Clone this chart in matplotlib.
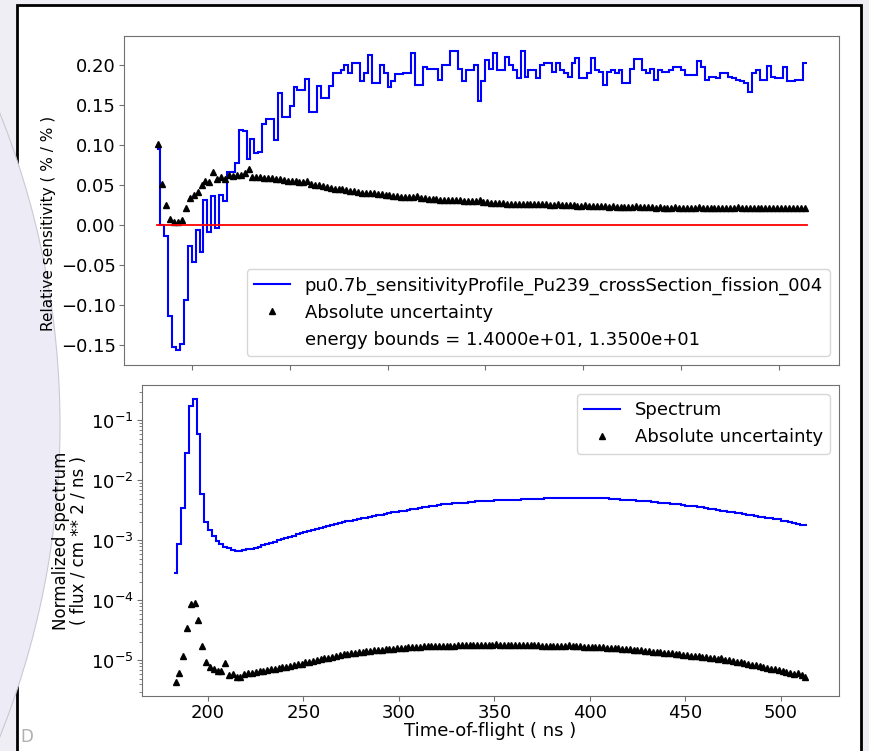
import numpy as np
import matplotlib
matplotlib.use("Agg")
import matplotlib.pyplot as plt
from matplotlib.patches import Rectangle, Ellipse

# time-of-flight bin edges (ns), 2 ns wide
tof_start = 182
tof_stop = 514
bin_width = 2

# relative sensitivity per bin (% / %)
sensitivity = [
    0.095, 0.000, -0.014, -0.114, -0.152, -0.156, -0.148, -0.093, -0.026, -0.046,
    -0.006, -0.033, 0.032, -0.008, 0.037, -0.004, 0.038, 0.030, 0.067, 0.067,
    0.078, 0.119, 0.118, 0.083, 0.108, 0.091, 0.092, 0.127, 0.133, 0.133,
    0.107, 0.166, 0.135, 0.135, 0.149, 0.173, 0.169, 0.169, 0.183, 0.142,
    0.142, 0.174, 0.159, 0.159, 0.174, 0.190, 0.190, 0.194, 0.200, 0.190,
    0.203, 0.203, 0.180, 0.190, 0.213, 0.178, 0.178, 0.200, 0.190, 0.173,
    0.180, 0.189, 0.189, 0.190, 0.190, 0.216, 0.176, 0.176, 0.198, 0.196,
    0.196, 0.196, 0.182, 0.200, 0.200, 0.218, 0.218, 0.196, 0.180, 0.194,
    0.194, 0.200, 0.155, 0.180, 0.207, 0.195, 0.216, 0.194, 0.194, 0.211,
    0.200, 0.194, 0.184, 0.218, 0.186, 0.194, 0.194, 0.184, 0.200, 0.203,
    0.203, 0.192, 0.203, 0.194, 0.190, 0.186, 0.203, 0.209, 0.184, 0.184,
    0.190, 0.209, 0.194, 0.192, 0.176, 0.192, 0.194, 0.190, 0.194, 0.178,
    0.178, 0.196, 0.208, 0.208, 0.194, 0.190, 0.196, 0.182, 0.194, 0.192,
    0.192, 0.194, 0.198, 0.198, 0.194, 0.188, 0.188, 0.188, 0.205, 0.198,
    0.182, 0.186, 0.186, 0.184, 0.190, 0.190, 0.186, 0.184, 0.182, 0.180,
    0.178, 0.167, 0.190, 0.194, 0.182, 0.182, 0.199, 0.186, 0.184, 0.184,
    0.198, 0.180, 0.180, 0.182, 0.182, 0.203,
]

# absolute uncertainty of the sensitivity
sens_unc = [
    0.102, 0.052, 0.025, 0.008, 0.004, 0.004, 0.007, 0.021, 0.034, 0.038,
    0.042, 0.050, 0.055, 0.054, 0.067, 0.058, 0.061, 0.058, 0.063, 0.062,
    0.063, 0.063, 0.065, 0.071, 0.061, 0.060, 0.060, 0.059, 0.059, 0.059,
    0.058, 0.058, 0.057, 0.056, 0.055, 0.055, 0.054, 0.054, 0.056, 0.052,
    0.051, 0.050, 0.049, 0.048, 0.047, 0.046, 0.046, 0.045, 0.044, 0.043,
    0.043, 0.042, 0.041, 0.041, 0.040, 0.040, 0.039, 0.039, 0.038, 0.038,
    0.037, 0.037, 0.036, 0.036, 0.036, 0.035, 0.037, 0.034, 0.034, 0.033,
    0.033, 0.033, 0.032, 0.032, 0.032, 0.031, 0.031, 0.031, 0.030, 0.030,
    0.030, 0.030, 0.031, 0.029, 0.029, 0.028, 0.028, 0.028, 0.028, 0.027,
    0.027, 0.027, 0.027, 0.027, 0.026, 0.026, 0.026, 0.026, 0.026, 0.026,
    0.025, 0.025, 0.026, 0.025, 0.025, 0.025, 0.025, 0.024, 0.024, 0.025,
    0.024, 0.024, 0.024, 0.024, 0.024, 0.023, 0.024, 0.023, 0.023, 0.023,
    0.023, 0.023, 0.024, 0.023, 0.023, 0.023, 0.023, 0.022, 0.023, 0.022,
    0.022, 0.022, 0.023, 0.022, 0.022, 0.022, 0.022, 0.022, 0.023, 0.022,
    0.022, 0.022, 0.022, 0.022, 0.022, 0.022, 0.022, 0.022, 0.023, 0.022,
    0.022, 0.022, 0.022, 0.022, 0.022, 0.022, 0.022, 0.022, 0.022, 0.022,
    0.022, 0.022, 0.022, 0.022, 0.022, 0.021,
]

# normalized spectrum (flux / cm**2 / ns)
spectrum = [
    2.9e-4, 8.7e-4, 3.5e-3, 2.9e-2, 1.76e-1, 2.27e-1, 5.9e-2, 5.9e-3, 2.0e-3, 1.47e-3,
    1.2e-3, 9.9e-4, 8.7e-4, 7.9e-4, 7.4e-4, 7.0e-4, 6.8e-4, 6.8e-4, 6.9e-4, 7.1e-4,
    7.2e-4, 7.6e-4, 7.9e-4, 8.3e-4, 8.7e-4, 9.1e-4, 9.5e-4, 1.0e-3, 1.05e-3, 1.10e-3,
    1.15e-3, 1.20e-3, 1.26e-3, 1.32e-3, 1.38e-3, 1.45e-3, 1.51e-3, 1.55e-3, 1.62e-3, 1.70e-3,
    1.74e-3, 1.82e-3, 1.86e-3, 1.95e-3, 2.00e-3, 2.09e-3, 2.14e-3, 2.19e-3, 2.29e-3, 2.34e-3,
    2.40e-3, 2.51e-3, 2.57e-3, 2.63e-3, 2.69e-3, 2.75e-3, 2.88e-3, 2.95e-3, 3.02e-3, 3.09e-3,
    3.16e-3, 3.24e-3, 3.31e-3, 3.39e-3, 3.47e-3, 3.55e-3, 3.63e-3, 3.72e-3, 3.80e-3, 3.89e-3,
    3.98e-3, 4.07e-3, 4.07e-3, 4.17e-3, 4.17e-3, 4.27e-3, 4.27e-3, 4.37e-3, 4.37e-3, 4.47e-3,
    4.47e-3, 4.57e-3, 4.57e-3, 4.57e-3, 4.68e-3, 4.68e-3, 4.68e-3, 4.79e-3, 4.79e-3, 4.79e-3,
    4.79e-3, 4.90e-3, 4.90e-3, 4.90e-3, 4.90e-3, 4.90e-3, 4.90e-3, 5.01e-3, 5.01e-3, 5.01e-3,
    5.01e-3, 5.01e-3, 5.01e-3, 5.01e-3, 5.01e-3, 5.01e-3, 5.01e-3, 5.01e-3, 5.01e-3, 5.01e-3,
    5.01e-3, 5.01e-3, 5.01e-3, 5.01e-3, 4.90e-3, 4.90e-3, 4.90e-3, 4.79e-3, 4.79e-3, 4.68e-3,
    4.68e-3, 4.57e-3, 4.57e-3, 4.47e-3, 4.47e-3, 4.37e-3, 4.37e-3, 4.27e-3, 4.27e-3, 4.17e-3,
    4.07e-3, 4.07e-3, 3.98e-3, 3.89e-3, 3.80e-3, 3.80e-3, 3.72e-3, 3.63e-3, 3.55e-3, 3.47e-3,
    3.39e-3, 3.31e-3, 3.24e-3, 3.16e-3, 3.09e-3, 3.02e-3, 2.95e-3, 2.88e-3, 2.82e-3, 2.75e-3,
    2.69e-3, 2.63e-3, 2.57e-3, 2.51e-3, 2.45e-3, 2.40e-3, 2.34e-3, 2.29e-3, 2.24e-3, 2.14e-3,
    2.09e-3, 2.04e-3, 1.95e-3, 1.91e-3, 1.82e-3, 1.78e-3,
]

# absolute uncertainty of the spectrum
spec_unc = [
    4.4e-6, 6.2e-6, 1.2e-5, 3.45e-5, 8.7e-5, 9.1e-5, 4.8e-5, 1.76e-5, 9.6e-6, 7.9e-6,
    7.2e-6, 6.8e-6, 6.6e-6, 9.1e-6, 5.8e-6, 6.0e-6, 5.4e-6, 5.4e-6, 5.9e-6, 6.1e-6,
    6.3e-6, 6.5e-6, 6.6e-6, 6.8e-6, 6.9e-6, 7.1e-6, 7.3e-6, 7.5e-6, 7.7e-6, 7.9e-6,
    8.2e-6, 8.4e-6, 8.7e-6, 8.9e-6, 9.3e-6, 9.6e-6, 9.9e-6, 1.02e-5, 1.05e-5, 1.08e-5,
    1.12e-5, 1.16e-5, 1.20e-5, 1.24e-5, 1.27e-5, 1.30e-5, 1.33e-5, 1.35e-5, 1.38e-5, 1.40e-5,
    1.42e-5, 1.45e-5, 1.47e-5, 1.50e-5, 1.52e-5, 1.54e-5, 1.56e-5, 1.58e-5, 1.60e-5, 1.62e-5,
    1.64e-5, 1.65e-5, 1.67e-5, 1.68e-5, 1.70e-5, 1.71e-5, 1.72e-5, 1.73e-5, 1.74e-5, 1.75e-5,
    1.76e-5, 1.76e-5, 1.77e-5, 1.77e-5, 1.78e-5, 1.78e-5, 1.78e-5, 1.79e-5, 1.79e-5, 1.79e-5,
    1.79e-5, 1.80e-5, 1.80e-5, 1.80e-5, 1.90e-5, 1.80e-5, 1.80e-5, 1.80e-5, 1.80e-5, 1.79e-5,
    1.79e-5, 1.79e-5, 1.79e-5, 1.78e-5, 1.78e-5, 1.78e-5, 1.77e-5, 1.77e-5, 1.76e-5, 1.76e-5,
    1.75e-5, 1.75e-5, 1.74e-5, 1.82e-5, 1.73e-5, 1.72e-5, 1.71e-5, 1.70e-5, 1.69e-5, 1.68e-5,
    1.67e-5, 1.66e-5, 1.65e-5, 1.64e-5, 1.62e-5, 1.61e-5, 1.59e-5, 1.57e-5, 1.55e-5, 1.53e-5,
    1.51e-5, 1.49e-5, 1.47e-5, 1.45e-5, 1.43e-5, 1.41e-5, 1.39e-5, 1.37e-5, 1.35e-5, 1.33e-5,
    1.31e-5, 1.29e-5, 1.27e-5, 1.25e-5, 1.23e-5, 1.21e-5, 1.19e-5, 1.17e-5, 1.15e-5, 1.13e-5,
    1.11e-5, 1.09e-5, 1.07e-5, 1.12e-5, 1.03e-5, 1.01e-5, 9.8e-6, 9.6e-6, 9.3e-6, 9.0e-6,
    8.8e-6, 8.5e-6, 8.3e-6, 8.0e-6, 7.8e-6, 7.5e-6, 7.3e-6, 7.1e-6, 6.9e-6, 6.7e-6,
    6.5e-6, 6.2e-6, 6.0e-6, 6.1e-6, 5.7e-6, 5.4e-6,
]

profile_label = "pu0.7b_sensitivityProfile_Pu239_crossSection_fission_004"
bounds_label = "energy bounds = 1.4000e+01, 1.3500e+01"

edges = np.arange(tof_start, tof_stop + bin_width, bin_width)
centers = edges[:-1] + bin_width / 2

plt.rcParams["font.size"] = 13
spine_col = "#707070"

fig = plt.figure(figsize=(8.69, 7.51), dpi=100, facecolor="#eeeef4")

# slide background: white panel with black frame and a lavender arc
fig.add_artist(Rectangle((17 / 869, -0.1), 844 / 869, 1.1 - 5 / 751,
                         transform=fig.transFigure, facecolor="white",
                         edgecolor="black", lw=2, zorder=-3))
fig.add_artist(Ellipse((-778 / 869, 1 - 425 / 751), 2 * 838 / 869, 2 * 838 / 751,
                       transform=fig.transFigure, facecolor="#ecebf6",
                       edgecolor="#c9c9d6", lw=0.8, zorder=-2))
fig.text(20 / 869, 1 - 737 / 751, "D", color="#b0b0b0", fontsize=12,
         ha="left", va="center")

ax1 = fig.add_axes([124 / 869, 1 - 365 / 751, 715 / 869, 329 / 751])
ax2 = fig.add_axes([142 / 869, 1 - 696 / 751, 697 / 869, 311 / 751])

# --- sensitivity profile ---
ax1.stairs(sensitivity, edges, baseline=None, color="blue", lw=1.5,
           label=profile_label)
ax1.plot(centers, sens_unc, linestyle="none", marker="^", ms=4.5, color="black",
         label="Absolute uncertainty")
ax1.plot([edges[0], edges[-1]], [0, 0], color="red", lw=1.3)
ax1.plot([], [], linestyle="none", label=bounds_label)
ax1.set_ylabel("Relative sensitivity ( % / % )", fontsize=11)
ax1.yaxis.set_label_coords(-0.095, 0.43)
ax1.set_xticks([200, 250, 300, 350, 400, 450, 500])
ax1.tick_params(labelbottom=False)
ax1.legend(loc="lower right", fontsize=13, handlelength=2.0)

# --- spectrum ---
ax2.stairs(spectrum, edges, baseline=None, color="blue", lw=1.5, label="Spectrum")
ax2.plot(centers, spec_unc, linestyle="none", marker="^", ms=4.5, color="black",
         label="Absolute uncertainty")
ax2.set_yscale("log")
ax2.set_xlabel("Time-of-flight ( ns )", fontsize=13)
ax2.xaxis.set_label_coords(0.5, -0.085)
ax2.set_ylabel("Normalized spectrum\n( flux / cm ** 2 / ns )", fontsize=12,
               linespacing=1.0)
ax2.yaxis.set_label_coords(-0.078, 0.5)
ax2.legend(loc="upper right", fontsize=13, handlelength=2.0)

for ax in (ax1, ax2):
    for sp in ax.spines.values():
        sp.set_color(spine_col)
    ax.tick_params(colors="black", labelsize=13, pad=2.5)
    ax.tick_params(which="both", color=spine_col)

fig.savefig("out.png", dpi=100, facecolor=fig.get_facecolor())
